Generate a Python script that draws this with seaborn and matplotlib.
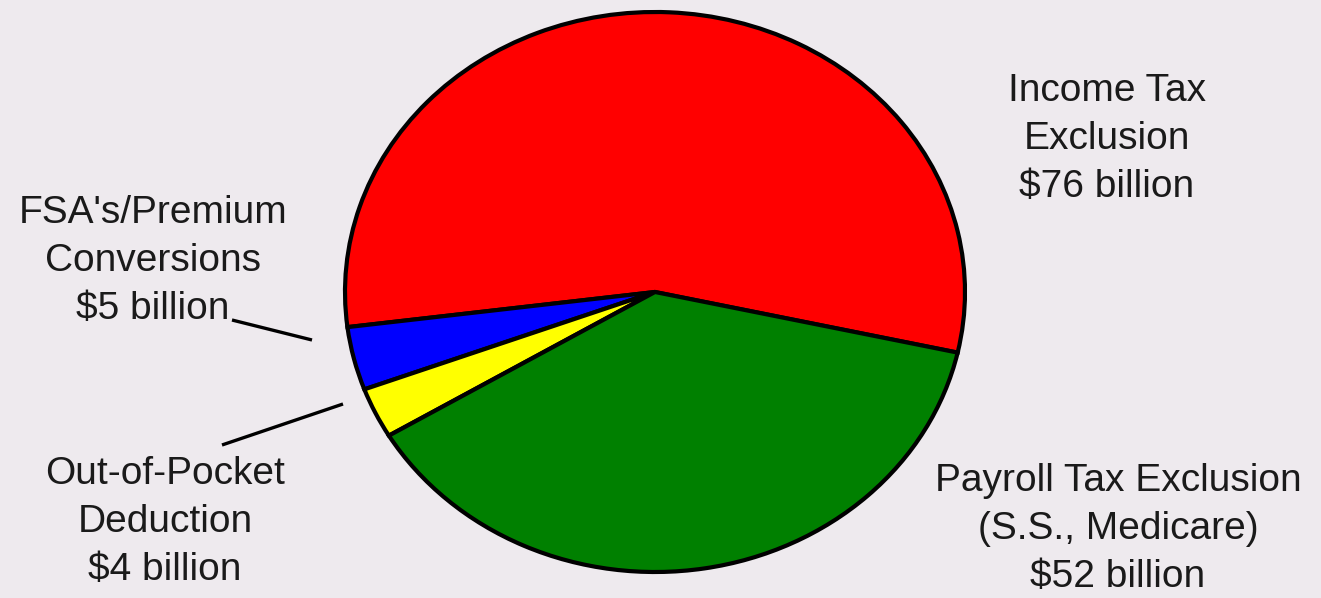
import numpy as np
import matplotlib
matplotlib.use("Agg")
import matplotlib.pyplot as plt
import seaborn as sns

# tax expenditure pieces ($ billion), counter-clockwise from the right
labels = ["Income Tax\nExclusion\n$76 billion",
          "FSA's/Premium\nConversions\n$5 billion",
          "Out-of-Pocket\nDeduction\n$4 billion",
          "Payroll Tax Exclusion\n(S.S., Medicare)\n$52 billion"]
values = [76, 5, 4, 52]
colors = ["#ff0000", "#0000ff", "#ffff00", "#008000"]

bg = "#eeeaee"
sns.set_theme(style="white", rc={"figure.facecolor": bg, "axes.facecolor": bg})
plt.rcParams["font.family"] = ["Liberation Sans", "DejaVu Sans"]

W, H = 1321, 598
fig = plt.figure(figsize=(W / 100, H / 100), dpi=100)
ax = fig.add_axes([0, 0, 1, 1])

# pie is drawn as an ellipse: centre (655, 292) px, radii 310 x 280 px
cx, cy, rx, ry = 655, 292, 310, 280
start = -12.5
wedges, _ = ax.pie(values, colors=colors, startangle=start, counterclock=True,
                   radius=1.0, center=(0, 0),
                   wedgeprops=dict(edgecolor="black", linewidth=3.0))
ax.set_aspect("auto")
ax.set_xlim(-cx / rx, (W - cx) / rx)
ax.set_ylim(-(H - cy) / ry, cy / ry)
ax.axis("off")

def px(x, y):
    return (x - cx) / rx, (cy - y) / ry

txt = dict(fontsize=28, color="#1a1a1a", ha="center", va="center",
           multialignment="center", linespacing=1.44)
pos = [(1107, 139), (153, 261), (165, 522), (1118, 529)]
for lab, p in zip(labels, pos):
    ax.text(*px(*p), lab, **txt)

# leader lines for the two thin slices (label end, pie end in px)
leaders = {1: [(232, 320), (312, 340)], 2: [(222, 445), (343, 404)]}
for i, (a, b) in leaders.items():
    ax.plot([px(*a)[0], px(*b)[0]], [px(*a)[1], px(*b)[1]],
            color="black", lw=2.4, solid_capstyle="butt")

fig.savefig("out.png", dpi=100, facecolor=bg)
